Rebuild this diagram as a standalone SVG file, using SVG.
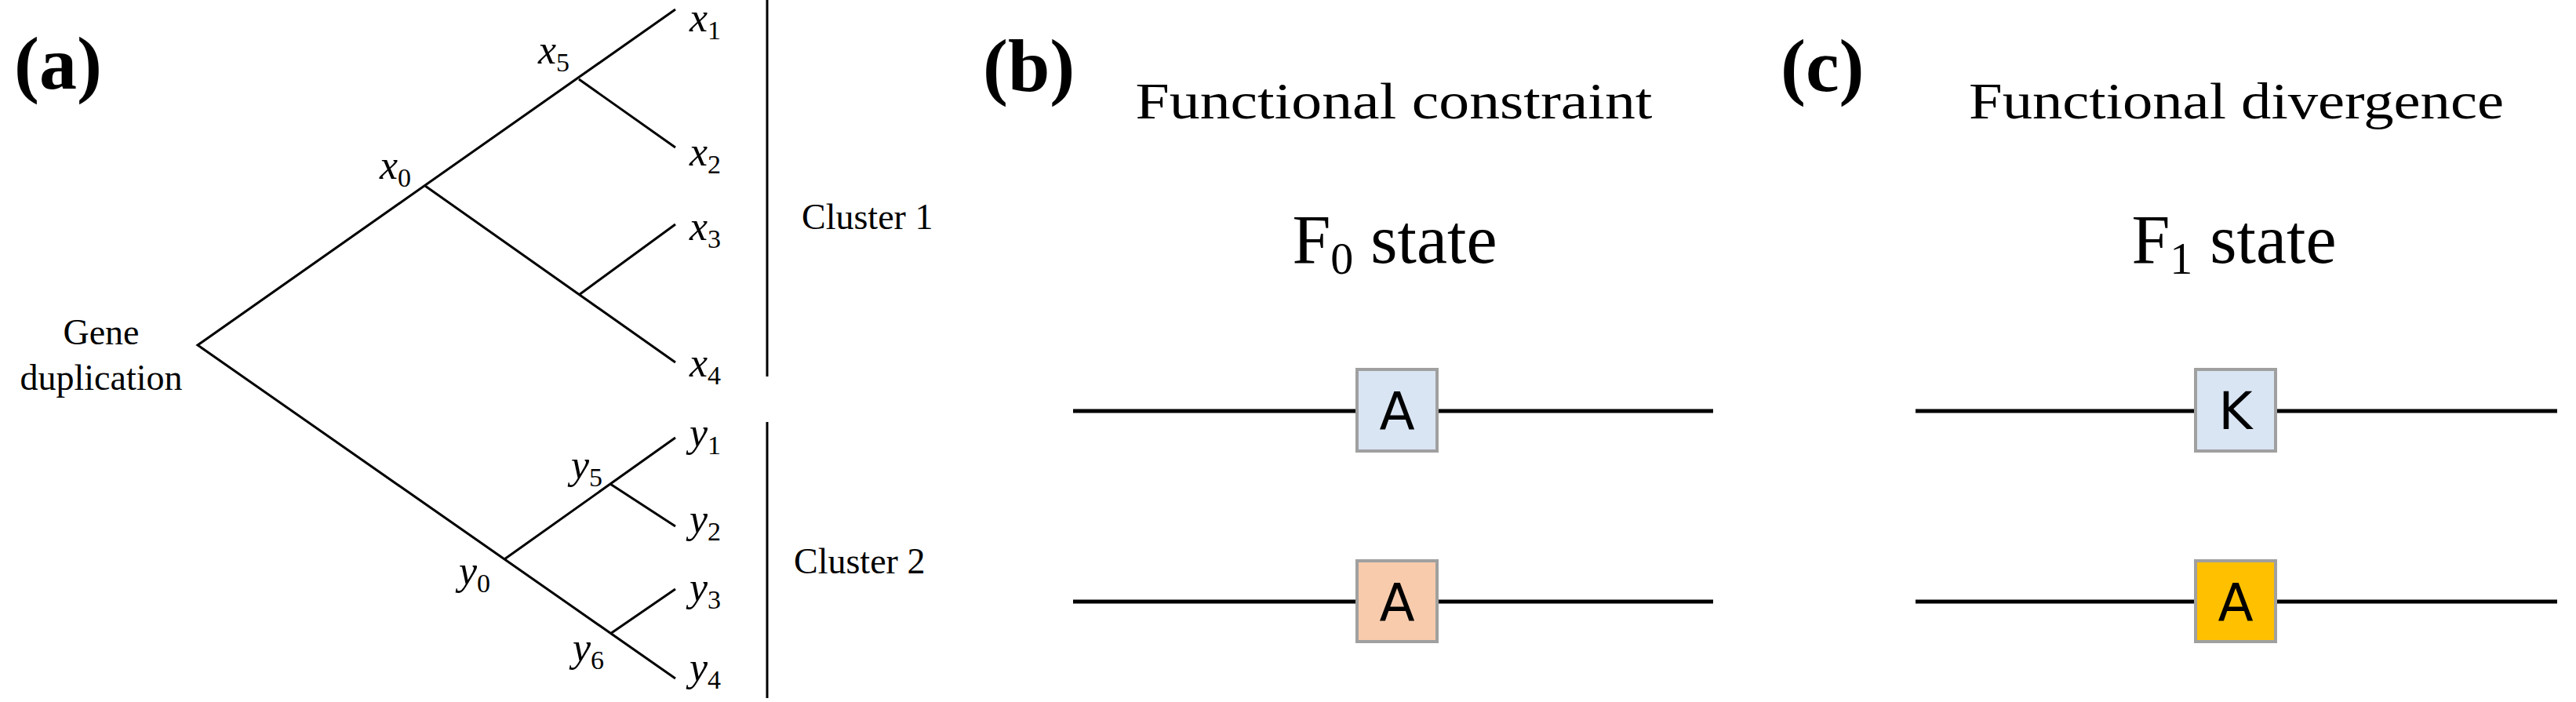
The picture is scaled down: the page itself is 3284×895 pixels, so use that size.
<svg xmlns="http://www.w3.org/2000/svg" width="3284" height="895" viewBox="0 0 3284 895">
<style>
.t{stroke:#000;stroke-width:3;fill:none}
.m{font-family:"Liberation Serif",serif;font-style:italic;font-size:52px}
.s{font-size:34px;font-style:normal}
.r{font-family:"Liberation Serif",serif;font-size:46px}
.lab{font-family:"Liberation Serif",serif;font-weight:bold;font-size:96px}
.h{font-family:"Liberation Serif",serif;font-size:66px;text-anchor:middle}
.st{font-family:"Liberation Serif",serif;font-size:88px;text-anchor:middle}
.bx{stroke:#a0a0a0;stroke-width:4}
.ch{font-family:"DejaVu Sans",sans-serif;font-size:66px;text-anchor:middle}
.ln{stroke:#000;stroke-width:5}
</style>
<rect width="3284" height="895" fill="#fff"/>
<g id="connectors">
<path class="t" d="M861,12 L252,440 L861,865 M738,101 L861,188 M542,237 L861,462 M738,376 L861,286 M643,713 L861,558 M778,617 L861,671 M778,808 L861,751"/>
<path class="t" d="M978,0 V480 M978,538 V890"/>
</g>
<g id="tree-labels">
<text class="lab" x="18" y="113">(a)</text>
<text class="r" x="129" y="439" text-anchor="middle">Gene</text>
<text class="r" x="129" y="497" text-anchor="middle">duplication</text>
<text class="r" x="1022" y="292">Cluster 1</text>
<text class="r" x="1012" y="731">Cluster 2</text>
<text class="m" x="879" y="40">x<tspan class="s" dy="10">1</tspan></text>
<text class="m" x="879" y="211">x<tspan class="s" dy="10">2</tspan></text>
<text class="m" x="879" y="306">x<tspan class="s" dy="10">3</tspan></text>
<text class="m" x="879" y="480">x<tspan class="s" dy="10">4</tspan></text>
<text class="m" x="686" y="81">x<tspan class="s" dy="10">5</tspan></text>
<text class="m" x="484" y="228">x<tspan class="s" dy="10">0</tspan></text>
<text class="m" x="879" y="569">y<tspan class="s" dy="10">1</tspan></text>
<text class="m" x="879" y="679">y<tspan class="s" dy="10">2</tspan></text>
<text class="m" x="879" y="766">y<tspan class="s" dy="10">3</tspan></text>
<text class="m" x="879" y="868">y<tspan class="s" dy="10">4</tspan></text>
<text class="m" x="728" y="610">y<tspan class="s" dy="10">5</tspan></text>
<text class="m" x="585" y="745">y<tspan class="s" dy="10">0</tspan></text>
<text class="m" x="730" y="843">y<tspan class="s" dy="10">6</tspan></text>
</g>
<g id="panel-b">
<text class="lab" x="1253" y="116">(b)</text>
<text class="h" x="1777" y="151" textLength="659" lengthAdjust="spacingAndGlyphs">Functional constraint</text>
<text class="st" x="1778" y="335">F<tspan font-size="58" dy="14">0</tspan><tspan dy="-14"> state</tspan></text>
<line class="ln" x1="1368" y1="524" x2="2184" y2="524"/>
<rect class="bx" x="1730" y="471" width="102" height="104" fill="#dae5f3"/>
<text class="ch" x="1781" y="547">A</text>
<line class="ln" x1="1368" y1="767" x2="2184" y2="767"/>
<rect class="bx" x="1730" y="715" width="102" height="103" fill="#f8cbad"/>
<text class="ch" x="1781" y="791">A</text>
</g>
<g id="panel-c">
<text class="lab" x="2270" y="116">(c)</text>
<text class="h" x="2851" y="151" textLength="682" lengthAdjust="spacingAndGlyphs">Functional divergence</text>
<text class="st" x="2848" y="335">F<tspan font-size="58" dy="14">1</tspan><tspan dy="-14"> state</tspan></text>
<line class="ln" x1="2442" y1="524" x2="3260" y2="524"/>
<rect class="bx" x="2799" y="471" width="102" height="104" fill="#dae5f3"/>
<text class="ch" x="2850" y="547">K</text>
<line class="ln" x1="2442" y1="767" x2="3260" y2="767"/>
<rect class="bx" x="2799" y="715" width="102" height="103" fill="#ffc000"/>
<text class="ch" x="2850" y="791">A</text>
</g>
</svg>
